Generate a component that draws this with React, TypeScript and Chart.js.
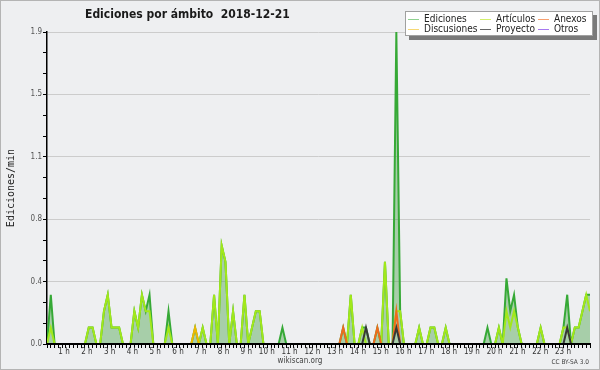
import React, { useEffect, useRef } from 'react';
import { Chart, registerables } from 'chart.js';

Chart.register(...registerables);

// 10-minute bins, 0:00 .. 23:50 (edits per minute)
const ediciones: number[] = [
  0, 0.3, 0, 0, 0, 0,
  0, 0, 0, 0, 0, 0.1,
  0.1, 0, 0, 0.2, 0.3, 0.1,
  0.1, 0.1, 0, 0, 0, 0.2,
  0.1, 0.3, 0.2, 0.3, 0, 0,
  0, 0, 0.2, 0, 0, 0,
  0, 0, 0, 0.1, 0, 0.1,
  0, 0, 0.3, 0, 0.6, 0.5,
  0, 0.2, 0, 0, 0.3, 0,
  0.1, 0.2, 0.2, 0, 0, 0,
  0, 0, 0.1, 0, 0, 0,
  0, 0, 0, 0, 0, 0,
  0, 0, 0, 0, 0, 0,
  0.1, 0, 0.3, 0, 0, 0.1,
  0.1, 0, 0, 0.1, 0, 0.5,
  0, 0, 1.9, 0.2, 0, 0,
  0, 0, 0.1, 0, 0, 0.1,
  0.1, 0, 0, 0.1, 0, 0,
  0, 0, 0, 0, 0, 0,
  0, 0, 0.1, 0, 0, 0.1,
  0, 0.4, 0.2, 0.3, 0.1, 0,
  0, 0, 0, 0, 0.1, 0,
  0, 0, 0, 0, 0.1, 0.3,
  0, 0.1, 0.1, 0.2, 0.3, 0.3,
];

const articulos: number[] = [
  0, 0.1, 0, 0, 0, 0,
  0, 0, 0, 0, 0, 0.1,
  0.1, 0, 0, 0.2, 0.3, 0.1,
  0.1, 0.1, 0, 0, 0, 0.2,
  0.1, 0.3, 0.2, 0.2, 0, 0,
  0, 0, 0.1, 0, 0, 0,
  0, 0, 0, 0, 0, 0.1,
  0, 0, 0.3, 0, 0.6, 0.5,
  0, 0.2, 0, 0, 0.3, 0,
  0.1, 0.2, 0.2, 0, 0, 0,
  0, 0, 0, 0, 0, 0,
  0, 0, 0, 0, 0, 0,
  0, 0, 0, 0, 0, 0,
  0, 0, 0.3, 0, 0, 0.1,
  0, 0, 0, 0, 0, 0.5,
  0, 0, 0.2, 0.2, 0, 0,
  0, 0, 0.1, 0, 0, 0.1,
  0.1, 0, 0, 0.1, 0, 0,
  0, 0, 0, 0, 0, 0,
  0, 0, 0, 0, 0, 0.1,
  0, 0.2, 0.1, 0.2, 0.1, 0,
  0, 0, 0, 0, 0.1, 0,
  0, 0, 0, 0, 0.1, 0.1,
  0, 0.1, 0.1, 0.2, 0.3, 0.2,
];

const anexos: number[] = [
  0, 0, 0, 0, 0, 0,  0, 0, 0, 0, 0, 0,  0, 0, 0, 0, 0, 0,  0, 0, 0, 0, 0, 0,
  0, 0, 0, 0, 0, 0,  0, 0, 0, 0, 0, 0,  0, 0, 0, 0, 0, 0,  0, 0, 0, 0, 0, 0,
  0, 0, 0, 0, 0, 0,  0, 0, 0, 0, 0, 0,  0, 0, 0, 0, 0, 0,  0, 0, 0, 0, 0, 0,
  0, 0, 0, 0, 0, 0,  0.1, 0, 0, 0, 0, 0,  0, 0, 0, 0.1, 0, 0,  0, 0, 0.2, 0, 0, 0,
  0, 0, 0, 0, 0, 0,  0, 0, 0, 0, 0, 0,  0, 0, 0, 0, 0, 0,  0, 0, 0, 0, 0, 0,
  0, 0, 0, 0, 0, 0,  0, 0, 0, 0, 0, 0,  0, 0, 0, 0, 0, 0,  0, 0, 0, 0, 0, 0,
];

const discusiones: number[] = [
  0, 0, 0, 0, 0, 0,  0, 0, 0, 0, 0, 0,  0, 0, 0, 0, 0, 0,  0, 0, 0, 0, 0, 0,
  0, 0, 0, 0, 0, 0,  0, 0, 0, 0, 0, 0,  0, 0, 0, 0.1, 0, 0,  0, 0, 0, 0, 0, 0,
  0, 0, 0, 0, 0, 0,  0, 0, 0, 0, 0, 0,  0, 0, 0, 0, 0, 0,  0, 0, 0, 0, 0, 0,
  0, 0, 0, 0, 0, 0,  0, 0, 0, 0, 0, 0,  0, 0, 0, 0, 0, 0,  0, 0, 0, 0, 0, 0,
  0, 0, 0, 0, 0, 0,  0, 0, 0, 0, 0, 0,  0, 0, 0, 0, 0, 0,  0, 0, 0, 0, 0, 0,
  0, 0, 0, 0, 0, 0,  0, 0, 0, 0, 0, 0,  0, 0, 0, 0, 0, 0,  0, 0, 0, 0, 0, 0,
];

const proyecto: number[] = [
  0, 0, 0, 0, 0, 0,  0, 0, 0, 0, 0, 0,  0, 0, 0, 0, 0, 0,  0, 0, 0, 0, 0, 0,
  0, 0, 0, 0, 0, 0,  0, 0, 0, 0, 0, 0,  0, 0, 0, 0, 0, 0,  0, 0, 0, 0, 0, 0,
  0, 0, 0, 0, 0, 0,  0, 0, 0, 0, 0, 0,  0, 0, 0, 0, 0, 0,  0, 0, 0, 0, 0, 0,
  0, 0, 0, 0, 0, 0,  0, 0, 0, 0, 0, 0,  0.1, 0, 0, 0, 0, 0,  0, 0, 0.1, 0, 0, 0,
  0, 0, 0, 0, 0, 0,  0, 0, 0, 0, 0, 0,  0, 0, 0, 0, 0, 0,  0, 0, 0, 0, 0, 0,
  0, 0, 0, 0, 0, 0,  0, 0, 0, 0, 0, 0,  0, 0, 0, 0, 0, 0.1,  0, 0, 0, 0, 0, 0,
];

const otros: number[] = [
  0, 0, 0, 0, 0, 0,  0, 0, 0, 0, 0, 0,  0, 0, 0, 0, 0, 0,  0, 0, 0, 0, 0, 0,
  0, 0, 0, 0, 0, 0,  0, 0, 0, 0, 0, 0,  0, 0, 0, 0, 0, 0,  0, 0, 0, 0, 0, 0,
  0, 0, 0, 0, 0, 0,  0, 0, 0, 0, 0, 0,  0, 0, 0, 0, 0, 0,  0, 0, 0, 0, 0, 0,
  0, 0, 0, 0, 0, 0,  0, 0, 0, 0, 0, 0,  0, 0, 0, 0, 0, 0,  0, 0, 0, 0, 0, 0,
  0, 0, 0, 0, 0, 0,  0, 0, 0, 0, 0, 0,  0, 0, 0, 0, 0, 0,  0, 0, 0, 0, 0, 0,
  0, 0, 0, 0, 0, 0,  0, 0, 0, 0, 0, 0,  0, 0, 0, 0, 0, 0,  0, 0, 0, 0, 0, 0,
];

const HOUR_LABELS = [
  '1 h', '2 h', '3 h', '4 h', '5 h', '6 h', '7 h', '8 h', '9 h', '10 h', '11 h', '12 h',
  '13 h', '14 h', '15 h', '16 h', '17 h', '18 h', '19 h', '20 h', '21 h', '22 h', '23 h',
];
const Y_TICK_LABELS = ['0.0', '0.4', '0.8', '1.1', '1.5', '1.9'];
const Y_MAX = 1.9;
const BINS_PER_HOUR = 6;

const TITLE = 'Ediciones por ámbito  2018-12-21';
const Y_TITLE = 'Ediciones/min';

const SERIES = [
  { label: 'Ediciones', data: ediciones, color: '#36a936', legend: '#8fd18f', order: 6, fill: true },
  { label: 'Artículos', data: articulos, color: '#a2e81a', legend: '#d2ef6c', order: 5, fill: false },
  { label: 'Anexos', data: anexos, color: '#f06a1c', legend: '#f7a070', order: 2, fill: false },
  { label: 'Discusiones', data: discusiones, color: '#f0b800', legend: '#f6d874', order: 4, fill: false },
  { label: 'Proyecto', data: proyecto, color: '#383838', legend: '#666666', order: 1, fill: false },
  { label: 'Otros', data: otros, color: '#9955ee', legend: '#a779f0', order: 3, fill: false },
];

const COND = '"DejaVu Sans Condensed", "DejaVu Sans", sans-serif';

const decorPlugin = {
  id: 'decor',
  beforeDraw(chart: any) {
    const ctx = chart.ctx;
    ctx.save();
    ctx.fillStyle = '#eeeff1';
    ctx.fillRect(0, 0, chart.width, chart.height);
    ctx.restore();
  },
  afterDraw(chart: any) {
    const ctx = chart.ctx;
    ctx.save();
    // outer frame
    ctx.strokeStyle = '#b4b4b4';
    ctx.lineWidth = 1;
    ctx.strokeRect(0.5, 0.5, chart.width - 1, chart.height - 1);

    // title
    ctx.fillStyle = '#1a1a1a';
    ctx.font = 'bold 12px ' + COND;
    ctx.textAlign = 'left';
    ctx.textBaseline = 'middle';
    ctx.fillText(TITLE, 85, 15);

    // y title
    ctx.save();
    ctx.translate(11, 188);
    ctx.rotate(-Math.PI / 2);
    ctx.font = '10px "DejaVu Sans Mono", monospace';
    ctx.textAlign = 'center';
    ctx.fillStyle = '#222';
    ctx.fillText(Y_TITLE, 0, 0);
    ctx.restore();

    // footer
    ctx.font = '8px ' + COND;
    ctx.fillStyle = '#444';
    ctx.textAlign = 'center';
    ctx.fillText('wikiscan.org', 300, 361);
    ctx.font = '6.5px ' + COND;
    ctx.textAlign = 'right';
    ctx.fillText('CC BY-SA 3.0', 589, 362);

    // legend
    const bx = 405, by = 11, bw = 188, bh = 25;
    ctx.fillStyle = '#7a7a7a';
    ctx.fillRect(bx + 4, by + 4, bw, bh);
    ctx.fillStyle = '#ffffff';
    ctx.fillRect(bx, by, bw, bh);
    ctx.strokeStyle = '#a0a0a0';
    ctx.strokeRect(bx + 0.5, by + 0.5, bw - 1, bh - 1);
    const cols = [408, 480, 538];
    const rows = [19.5, 29.5];
    ctx.font = '10px ' + COND;
    ctx.textAlign = 'left';
    ctx.textBaseline = 'middle';
    SERIES.forEach((s, i) => {
      const c = i % 3, r = Math.floor(i / 3);
      const x = cols[c], y = rows[r];
      ctx.strokeStyle = s.legend;
      ctx.lineWidth = 1;
      ctx.beginPath();
      ctx.moveTo(x, y);
      ctx.lineTo(x + 11, y);
      ctx.stroke();
      ctx.fillStyle = '#222';
      ctx.fillText(s.label, x + 16, y);
    });
    ctx.restore();
  },
};

export default function App() {
  const ref = useRef<HTMLCanvasElement | null>(null);
  useEffect(() => {
    document.body.style.margin = '0';
    const canvas = ref.current!;
    const chart = new Chart(canvas, {
      type: 'line',
      data: {
        datasets: SERIES.map((s) => ({
          label: s.label,
          data: s.data.map((v, i) => ({ x: i, y: v })),
          borderColor: s.color,
          backgroundColor: s.fill ? 'rgba(70,160,70,0.42)' : 'transparent',
          fill: s.fill ? 'origin' : false,
          borderWidth: 2,
          pointRadius: 0,
          tension: 0,
          order: s.order,
        })),
      },
      options: {
        animation: false,
        responsive: false,
        devicePixelRatio: 1,
        layout: { padding: { top: 32, right: 10, left: 0, bottom: 0 } },
        plugins: {
          legend: { display: false },
          tooltip: { enabled: false },
          title: { display: false },
        },
        scales: {
          x: {
            type: 'linear',
            min: 0,
            max: ediciones.length - 1,
            afterBuildTicks: (scale: any) => {
              scale.ticks = ediciones.map((_, i) => ({ value: i }));
            },
            afterFit: (scale: any) => {
              scale.height = 26;
            },
            grid: {
              drawOnChartArea: false,
              drawTicks: true,
              tickLength: 4,
              tickColor: '#000',
              tickWidth: 1,
            },
            border: { display: true, color: '#000', width: 2, z: 1 },
            ticks: {
              autoSkip: false,
              maxRotation: 0,
              minRotation: 0,
              align: 'end',
              padding: -1,
              color: '#333',
              font: { family: COND, size: 8 },
              callback: (value: any) => {
                const v = Math.round(Number(value));
                if (v > 0 && v % BINS_PER_HOUR === 0) {
                  return HOUR_LABELS[v / BINS_PER_HOUR - 1] ?? '';
                }
                return '';
              },
            },
          },
          y: {
            type: 'linear',
            min: 0,
            max: Y_MAX,
            afterBuildTicks: (scale: any) => {
              const n = (Y_TICK_LABELS.length - 1) * 3;
              const t: any[] = [];
              for (let k = 0; k <= n; k++) t.push({ value: (Y_MAX * k) / n });
              scale.ticks = t;
            },
            afterFit: (scale: any) => {
              scale.width = 47;
            },
            grid: {
              color: (c: any) => (c.index % 3 === 0 && c.index > 0 ? '#cccccc' : 'rgba(0,0,0,0)'),
              lineWidth: 1,
              drawTicks: true,
              tickLength: 4,
              tickColor: '#000',
              tickWidth: 1,
            },
            border: { display: true, color: '#000', width: 1.5 },
            ticks: {
              autoSkip: false,
              padding: 1,
              color: '#555',
              font: { family: COND, size: 8 },
              callback: (_v: any, index: number) => (index % 3 === 0 ? Y_TICK_LABELS[index / 3] : ''),
            },
          },
        },
      },
      plugins: [decorPlugin],
    } as any);
    return () => chart.destroy();
  }, []);

  return (
    <div style={{ width: 600, height: 370, position: 'relative' }}>
      <canvas ref={ref} width={600} height={370} style={{ display: 'block' }} />
    </div>
  );
}
